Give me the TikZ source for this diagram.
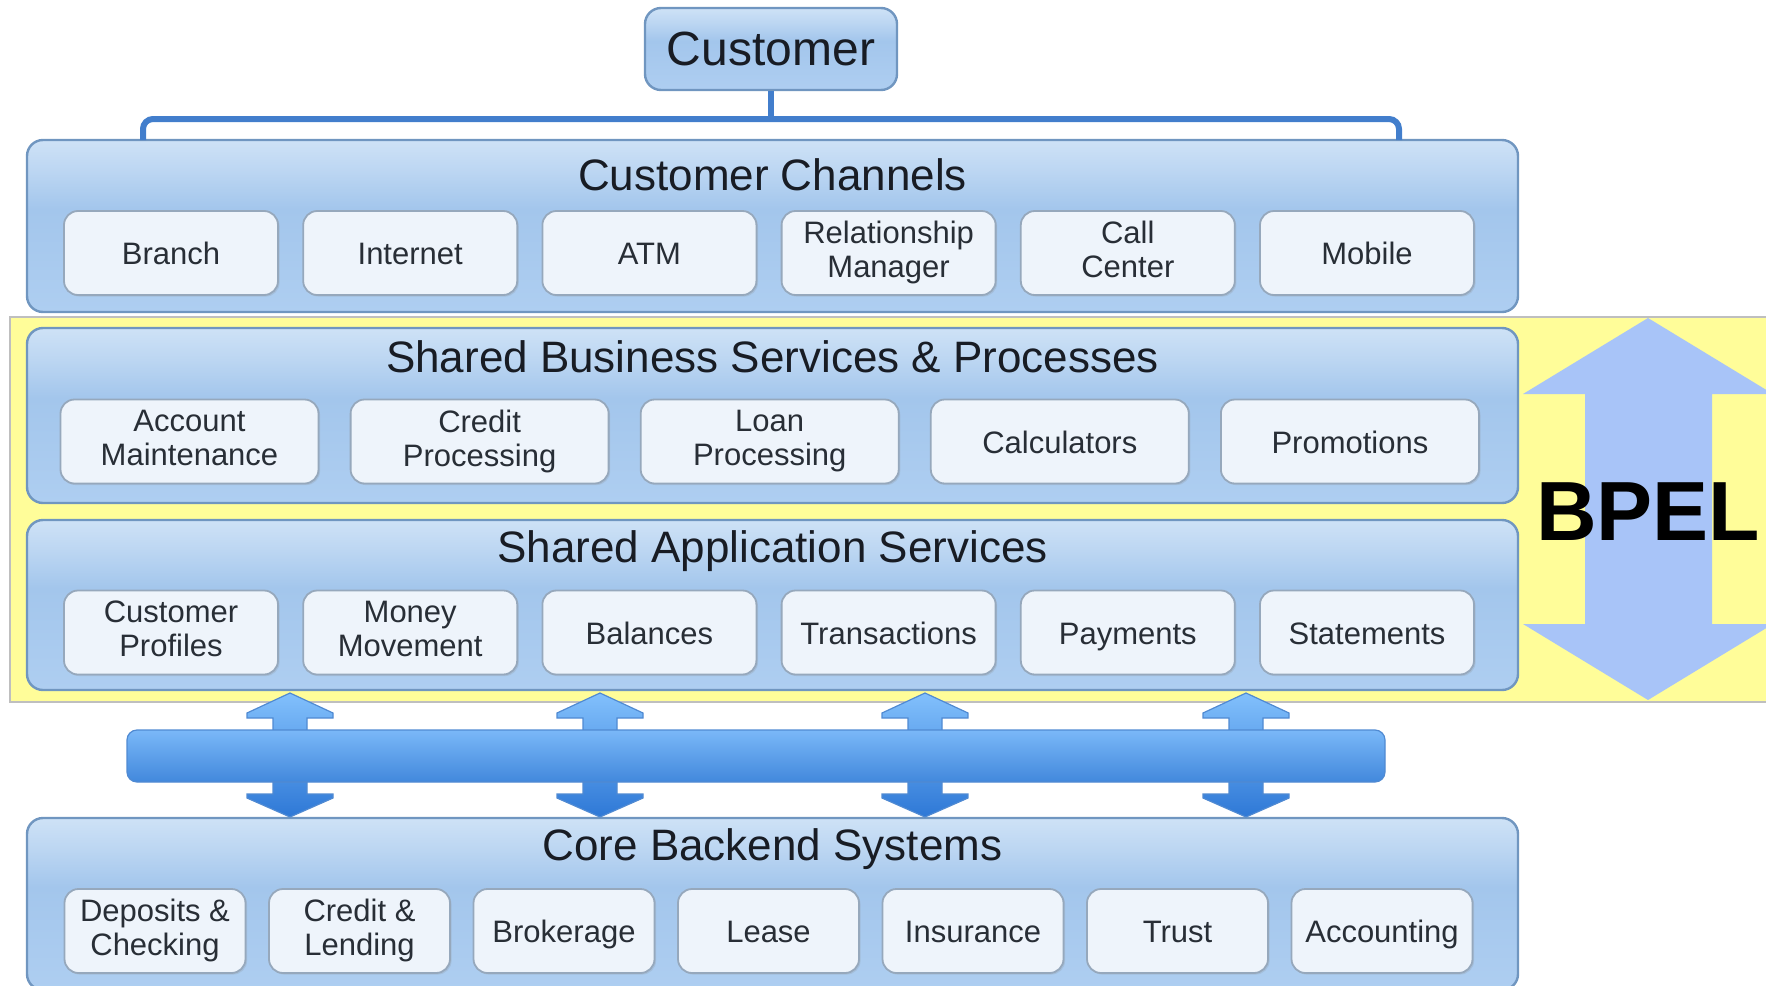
\documentclass[tikz,border=0pt]{standalone}
\usepackage{fontspec}
\setmainfont{Liberation Sans}
\usetikzlibrary{shapes,arrows,positioning,shadows}
\definecolor{layertop}{RGB}{206,226,246}
\definecolor{layerhi}{RGB}{188,214,242}
\definecolor{layermid}{RGB}{163,198,236}
\definecolor{layerbot}{RGB}{174,206,241}
\definecolor{layerline}{RGB}{112,150,192}
\definecolor{svcfill}{RGB}{238,244,251}
\definecolor{svcline}{RGB}{150,168,188}
\definecolor{svctext}{RGB}{40,46,54}
\definecolor{titletext}{RGB}{24,28,36}
\definecolor{feedline}{RGB}{66,126,204}
\definecolor{bpelback}{RGB}{255,253,153}
\definecolor{bpelarrow}{RGB}{168,196,248}
\definecolor{bustop}{RGB}{122,184,248}
\definecolor{busbot}{RGB}{66,136,220}
\definecolor{arrtop}{RGB}{130,192,252}
\definecolor{arrbot}{RGB}{46,120,214}
\definecolor{busedge}{RGB}{80,138,210}
\pgfdeclareverticalshading{layershade}{100bp}{color(0bp)=(layerbot); color(25bp)=(layerbot); color(55bp)=(layermid); color(66bp)=(layerhi); color(75bp)=(layertop); color(100bp)=(layertop)}
\def \svcstrut {\rule[-3.5pt]{0pt}{18.6pt}}
\tikzstyle{layer} = [draw=layerline,line width=1.2pt,rounded corners=8pt,shade,shading=layershade,minimum width=745.5pt,inner sep=0]
\tikzstyle{title} = [font=\fontsize{22}{26}\selectfont,text=titletext,anchor=base]
\tikzstyle{svc} = [draw=svcline,line width=0.9pt,fill=svcfill,rounded corners=7pt,align=center,inner sep=0,minimum height=42pt,font=\fontsize{15.5}{17}\selectfont,text=svctext,execute at begin node=\svcstrut,execute at end node=\svcstrut,drop shadow={opacity=0.18,shadow xshift=0.8pt,shadow yshift=-0.8pt}]
\tikzstyle{feed} = [draw=feedline,line width=3pt]
\tikzstyle{busarrow} = [draw=busedge,line width=0.6pt,top color=arrtop,bottom color=arrbot]
\def \chw {107pt}
\def \bsw {129pt}
\def \cbw {90.5pt}

\begin{document}
\begin{tikzpicture}[x=0.5pt,y=-0.5pt]
  \useasboundingbox (0,0) rectangle (1766,985);
  \clip (0,0) rectangle (1766,985);
  % BPEL band
  \fill[bpelback,draw=black!25,line width=0.8pt] (10,317) rectangle (1790,702);
  \fill[bpelarrow] (1648,318) -- (1773,394) -- (1712,394) -- (1712,624) -- (1773,624)
    -- (1648,700) -- (1523,624) -- (1585,624) -- (1585,394) -- (1523,394) -- cycle;
  \node[font=\bfseries\fontsize{42}{48}\selectfont,anchor=base] (bpel) at (1648,540) {BPEL};

  % layers
  \node[layer,minimum height=86pt] (cc) at (772.5,226) {};
  \node[layer,minimum height=87.5pt] (sbs) at (772.5,415.5) {};
  \node[layer,minimum height=85pt] (sas) at (772.5,605) {};
  \node[layer,minimum height=86pt] (core) at (772.5,904) {};
  \node[title] (cct) at (772.5,190) {Customer Channels};
  \node[title] (sbst) at (772.5,372) {Shared Business Services \& Processes};
  \node[title] (sast) at (772.5,562) {Shared Application Services};
  \node[title] (coret) at (772.5,860) {Core Backend Systems};

  \foreach \lbl [count=\i from 0] in {Branch,Internet,ATM,{Relationship\\Manager},{Call\\Center},Mobile}
    \node[svc,minimum width=\chw] (ch\i) at ({171+239.2*\i},253) {\lbl};
  \foreach \lbl [count=\i from 0] in {{Account\\Maintenance},{Credit\\Processing},{Loan\\Processing},Calculators,Promotions}
    \node[svc,minimum width=\bsw] (bs\i) at ({189.5+290.1*\i},441.5) {\lbl};
  \foreach \lbl [count=\i from 0] in {{Customer\\Profiles},{Money\\Movement},Balances,Transactions,Payments,Statements}
    \node[svc,minimum width=\chw] (as\i) at ({171+239.2*\i},632.5) {\lbl};
  \foreach \lbl [count=\i from 0] in {{Deposits \&\\Checking},{Credit \&\\Lending},Brokerage,Lease,Insurance,Trust,Accounting}
    \node[svc,minimum width=\cbw] (cb\i) at ({155+204.5*\i},931) {\lbl};

  % service bus
  \foreach \x in {290,600,925,1246}
    \path[busarrow] (\x,693) -- (\x+43,713) -- (\x+43,718) -- (\x+17,718) -- (\x+17,794)
      -- (\x+43,794) -- (\x+43,798) -- (\x,817) -- (\x-43,798) -- (\x-43,794)
      -- (\x-17,794) -- (\x-17,718) -- (\x-43,718) -- (\x-43,713) -- cycle;
  \node[draw=busedge,line width=0.6pt,rounded corners=5pt,top color=bustop,bottom color=busbot,
    minimum width=629pt,minimum height=26pt,inner sep=0] (bus) at (756,756) {};

  % customer
  \node[draw=layerline,line width=1.2pt,rounded corners=8pt,shade,shading=layershade,
    minimum width=126pt,minimum height=41pt,font=\fontsize{24}{28}\selectfont,text=titletext] (cust) at (771,49) {Customer};
  \coordinate (split) at (769,119);
  \coordinate (ccl) at (143,140);
  \coordinate (ccr) at (1399,140);
  \draw[feed] (cust.south) -- (cust.south |- split);
  \draw[feed,rounded corners=5pt] (ccl) |- (split) -| (ccr);
\end{tikzpicture}
\end{document}
